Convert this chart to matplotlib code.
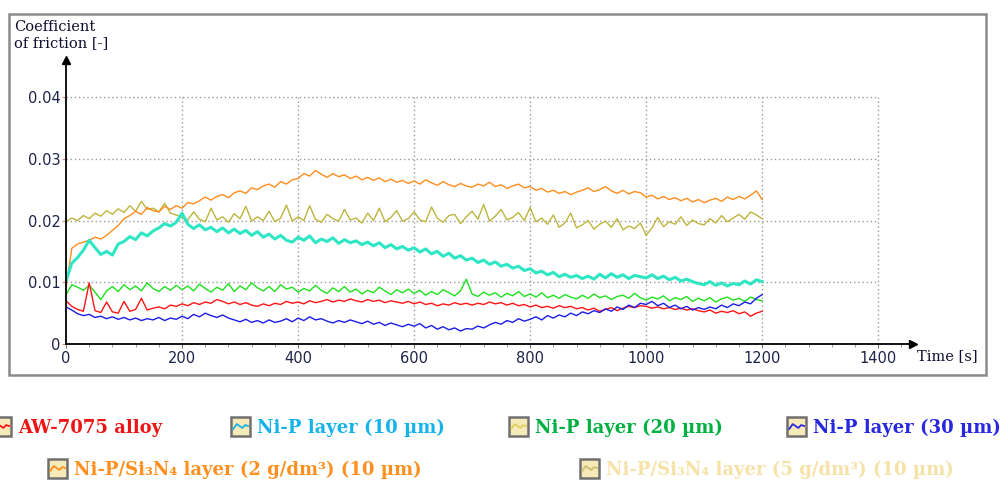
"""
Coefficient of friction vs. time for AW-7075 alloy and Ni-P based layers.
"""

import matplotlib
matplotlib.use("Agg")  # Non-interactive backend
import matplotlib.pyplot as plt
import numpy as np
from matplotlib.lines import Line2D
from matplotlib.patches import Rectangle

W, H = 1008, 483

# ---- Data (coefficient of friction in thousandths, sampled every 10 s) ----
time_s = np.arange(0, 1201, 10)

alloy_7075 = [
    7.0, 6.1, 5.6, 5.3, 9.9, 5.4, 5.1, 6.8, 5.2, 5.0,
    6.9, 5.3, 5.6, 7.4, 5.5, 5.8, 6.0, 5.7, 6.3, 6.1,
    6.5, 6.2, 6.7, 6.4, 6.8, 6.6, 7.2, 6.9, 6.5, 6.8,
    6.4, 6.7, 6.3, 6.1, 6.5, 6.2, 6.6, 6.4, 6.9, 6.6,
    6.8, 6.5, 7.0, 6.7, 6.9, 7.2, 6.8, 7.1, 6.9, 7.3,
    7.0, 6.8, 7.2, 6.9, 7.1, 6.7, 7.0, 6.8, 6.6, 6.9,
    6.5, 6.8, 6.4, 6.6, 6.2, 6.5, 6.3, 6.7, 6.4, 6.6,
    6.3, 6.6, 6.4, 6.8, 6.5, 6.7, 6.3, 6.6, 6.2, 6.4,
    6.0, 6.3, 5.9, 6.1, 5.8, 6.2, 5.9, 6.1, 5.7, 5.9,
    5.5, 5.8, 5.3, 5.6, 5.9, 5.4, 5.8, 6.1, 5.9, 6.2,
    6.1, 5.8, 6.0, 5.7, 5.9, 5.6, 5.8, 5.5, 5.7, 5.4,
    5.2, 5.5, 5.0, 5.3, 5.1, 5.4, 4.9, 5.2, 4.5, 5.0,
    5.3,
]

nip_10 = [
    10.2, 13.1, 14.0, 15.2, 16.8, 15.6, 14.5, 15.0, 14.4, 16.2,
    16.6, 17.4, 16.9, 18.0, 17.5, 18.3, 18.8, 19.5, 19.1, 19.7,
    21.2, 19.4, 18.7, 19.3, 18.5, 18.9, 18.2, 18.8, 18.0, 18.6,
    17.9, 18.4, 17.6, 18.2, 17.3, 17.8, 17.0, 17.6, 16.8, 16.5,
    17.3, 16.8, 17.5, 16.4, 17.0, 16.6, 17.2, 16.3, 16.9, 16.4,
    16.7, 16.1, 16.5, 15.9, 16.4, 15.6, 16.1, 15.4, 15.8, 15.2,
    15.6, 14.9, 15.4, 14.6, 15.0, 14.2, 14.7, 13.9, 14.3, 13.6,
    13.9, 13.2, 13.6, 12.9, 13.3, 12.6, 12.9, 12.3, 12.6, 11.9,
    12.2, 11.5, 11.8, 11.2, 11.6, 10.9, 11.3, 10.8, 11.1, 10.6,
    11.0, 10.5, 11.3, 10.7, 11.4, 10.8, 11.2, 10.6, 11.1, 10.9,
    10.7, 11.2, 10.6, 11.0, 10.4, 10.8, 10.2, 10.5, 10.1, 9.8,
    9.6, 10.1, 9.5, 9.9, 9.4, 9.8, 9.6, 10.2, 9.7, 10.4,
    10.1,
]

nip_20 = [
    8.0, 9.6, 9.2, 8.7, 9.5, 8.4, 7.2, 8.6, 9.3, 8.5,
    9.6, 8.8, 9.4, 8.6, 9.9, 9.0, 8.5, 9.3, 8.7, 9.5,
    8.8, 9.4, 8.6, 9.7, 9.0, 8.4, 9.2, 8.7, 9.8, 8.5,
    9.4, 8.8, 9.9, 9.1, 8.6, 9.3, 8.5, 9.6, 8.9, 9.2,
    8.4, 9.0, 8.6, 9.5, 8.7, 8.2, 9.1, 8.5, 9.3, 8.4,
    8.9, 8.1, 8.7, 8.3, 9.2, 8.6, 8.0, 8.8, 8.3, 8.9,
    8.2, 8.7, 7.9, 8.5, 8.0, 8.8, 8.3, 7.8, 8.6, 10.5,
    8.1, 7.7, 8.4, 7.9, 8.3, 7.6, 8.2, 7.8, 8.5, 7.7,
    8.1, 7.6, 8.3, 7.5, 7.9, 7.4, 8.0, 7.6, 7.3, 7.9,
    7.4, 8.1, 7.5, 7.8, 7.2, 7.7, 7.9, 7.4, 8.2, 7.5,
    7.1, 7.6, 7.3, 7.8, 7.0, 7.5, 7.2, 7.7, 6.9, 7.4,
    7.0, 7.5, 6.8, 7.3, 7.6, 7.1, 7.4, 6.9, 7.6, 7.2,
    7.0,
]

nip_30 = [
    6.0, 5.5, 4.9, 4.6, 4.8, 4.3, 4.5, 4.1, 4.4, 4.0,
    4.3, 3.9, 4.2, 3.8, 4.1, 3.9, 4.3, 3.8, 4.2, 4.0,
    4.5, 4.1, 4.8, 4.4, 5.0, 4.6, 4.3, 4.7, 4.2, 3.9,
    3.6, 4.0, 3.5, 3.8, 3.4, 3.9, 3.5, 3.7, 4.1, 3.6,
    4.2, 3.8, 4.4, 3.9, 4.1, 3.7, 3.4, 3.8, 3.5, 3.9,
    3.6, 3.3, 3.7, 3.2, 3.5, 3.0, 3.4, 3.1, 2.8, 3.2,
    2.9, 3.3, 2.6, 3.0, 2.4, 2.8, 2.3, 2.6, 2.1, 2.5,
    2.4, 2.9, 2.6, 3.1, 3.5, 3.2, 3.8, 3.5, 4.1, 3.7,
    4.0, 4.4, 3.9, 4.6, 4.2, 4.7, 4.4, 5.0, 4.6, 5.2,
    4.9, 5.4, 5.1, 5.7, 5.3, 6.0, 5.6, 6.3, 5.9, 6.6,
    6.4, 6.9, 6.2, 6.6, 5.9, 6.3, 5.7, 6.1, 5.5, 5.9,
    5.6, 6.0, 5.7, 6.3, 5.9, 6.5, 6.2, 6.8, 6.5, 7.4,
    8.0,
]

si3n4_2 = [
    9.0, 15.5, 16.2, 16.5, 16.8, 17.3, 17.0, 17.6, 18.4, 19.2,
    20.3, 20.8, 21.5, 21.0, 22.1, 21.6, 21.4, 22.3, 21.8, 22.4,
    22.0, 22.9, 22.7, 23.2, 23.8, 23.3, 23.9, 24.2, 23.7, 24.5,
    24.8, 24.4, 25.3, 25.0, 25.6, 25.9, 25.4, 26.3, 25.9, 26.6,
    26.8, 27.6, 27.2, 28.1, 27.5, 27.0, 27.6, 27.1, 27.4, 26.8,
    27.2, 26.6, 27.0, 26.5, 26.9, 26.3, 26.7, 26.2, 26.5, 26.0,
    26.4, 25.9, 26.6, 26.1, 25.7, 26.3, 25.8, 25.5, 26.0, 25.6,
    25.4, 25.9, 25.6, 26.2, 25.5, 25.8, 25.2, 25.6, 25.9, 25.3,
    25.5, 24.9, 25.2, 24.6, 24.9, 24.4, 24.7, 24.2, 24.6, 24.9,
    25.3, 24.7, 25.0, 25.5, 24.8, 24.4, 24.9, 24.3, 24.7, 24.5,
    23.8, 24.1, 23.5, 23.9, 23.4, 23.7, 23.2, 23.6, 23.0, 23.4,
    22.9, 23.3, 23.6, 23.1, 23.8, 23.4, 23.9, 23.5, 24.1, 24.8,
    23.4,
]

si3n4_5 = [
    19.8, 20.4, 20.0, 20.8, 20.3, 21.2, 20.7, 21.6, 21.0, 21.9,
    21.3, 22.4, 21.5, 23.1, 21.8, 22.0, 21.4, 22.8, 21.2, 20.9,
    20.5, 20.1, 21.4, 20.2, 19.8, 22.0, 20.1, 20.6, 19.7, 21.1,
    20.3, 22.3, 19.9, 20.6, 20.0, 21.5, 19.8, 20.4, 22.5, 19.9,
    20.6, 20.0, 22.4, 20.2, 19.7, 21.0, 20.3, 19.9, 21.8, 20.1,
    20.4, 19.6, 21.2, 20.0, 22.0, 19.8, 20.5, 21.6, 19.9, 20.3,
    21.4, 20.1, 19.8, 22.2, 20.4, 19.7, 20.8, 21.0, 19.5, 20.6,
    21.5, 20.2, 22.6, 19.9, 20.7, 21.8, 20.1, 20.5, 21.3, 20.0,
    22.1, 19.8, 20.4, 19.4, 20.9, 18.9, 19.6, 21.2, 18.8, 19.3,
    20.0, 18.6, 19.4, 19.9, 18.9, 20.3, 18.5, 19.1, 18.7, 19.6,
    17.6, 18.8, 20.5, 19.0, 19.8, 19.4, 20.6, 19.2, 20.1, 19.5,
    19.3, 20.3, 19.6, 20.8, 19.8, 20.4, 21.0, 20.2, 21.4, 20.9,
    20.3,
]

x_ticks = [0, 200, 400, 600, 800, 1000, 1200, 1400]
y_ticks = [0.0, 0.01, 0.02, 0.03, 0.04]
y_tick_labels = ["0", "0.01", "0.02", "0.03", "0.04"]

legend_labels = [
    "AW-7075 alloy",
    "Ni-P layer (10 µm)",
    "Ni-P layer (20 µm)",
    "Ni-P layer (30 µm)",
    "Ni-P/Si₃N₄ layer (2 g/dm³) (10 µm)",
    "Ni-P/Si₃N₄ layer (5 g/dm³) (10 µm)",
]


def fx(px):
    return px / W


def fy(py):
    return 1 - py / H


# ---- Figure ----
fig = plt.figure(figsize=(W / 100, H / 100), dpi=100)
fig.patch.set_facecolor("white")

# outer grey frame
fig.patches.append(Rectangle((fx(9), fy(375)), fx(986) - fx(9), fy(14) - fy(375),
                             transform=fig.transFigure, fill=False,
                             edgecolor="#8a8a8a", linewidth=1.8))

ax = fig.add_axes([fx(66), fy(344), fx(913) - fx(66), fy(60) - fy(344)])
ax.set_xlim(0, 1460)
ax.set_ylim(0, 0.046)
ax.patch.set_alpha(0)

# dotted grid, limited to the labelled range
ax.vlines(x_ticks[1:], 0, y_ticks[-1], colors="#9a9a9a", linestyles=(0, (1, 2)), linewidth=1.0)
ax.hlines(y_ticks[1:], 0, x_ticks[-1], colors="#9a9a9a", linestyles=(0, (1, 2)), linewidth=1.0)

series = [
    (si3n4_5, "#bdb53c", 1.0),
    (si3n4_2, "#ff8c1e", 1.0),
    (nip_10, "#2ee6c4", 2.2),
    (nip_20, "#1ee01e", 1.0),
    (alloy_7075, "#ff1414", 1.0),
    (nip_30, "#1c1ce8", 1.0),
]
for vals, color, lw in series:
    ax.plot(time_s, np.array(vals) / 1000.0, color=color, linewidth=lw)

# axes with arrow heads
for side in ("top", "right"):
    ax.spines[side].set_visible(False)
for side in ("left", "bottom"):
    ax.spines[side].set_color("black")
    ax.spines[side].set_linewidth(1.3)
ax.plot([1], [0], marker=">", color="black", markersize=6, transform=ax.transAxes, clip_on=False)
ax.plot([0], [1], marker="^", color="black", markersize=6, transform=ax.transAxes, clip_on=False)

ax.set_xticks(x_ticks)
ax.set_xticks(np.arange(0, 1460, 40), minor=True)
ax.set_yticks(y_ticks)
ax.set_yticklabels(y_tick_labels)
ax.tick_params(axis="x", which="major", length=3, color="#777777", labelsize=10.5,
               labelcolor="#1e2448", pad=2)
ax.tick_params(axis="x", which="minor", length=2, color="#888888")
ax.tick_params(axis="y", which="major", length=3, color="#e09090", labelsize=10.5,
               labelcolor="#1e2448", pad=1)

fig.text(fx(14), fy(20), "Coefficient\nof friction [-]", family="DejaVu Serif",
         fontsize=10.5, color="#101030", ha="left", va="top", linespacing=1.2)
fig.text(fx(917), fy(356), "Time [s]", family="DejaVu Serif", fontsize=10.5,
         color="#101030", ha="left", va="center")

# ---- Legend below the plot ----
legend_text_colors = ["#ee1414", "#14b4ea", "#00b040", "#2828e0", "#ff9020", "#f6e2a6"]
legend_line_colors = ["#ff1414", "#14b4ea", "#e0d060", "#2828e0", "#ff9020", "#c8c070"]
legend_text_pos = [(18, 428), (257, 428), (535, 428), (813, 428), (74, 470), (606, 470)]

wave_x = [0.12, 0.3, 0.45, 0.6, 0.75, 0.9]
wave_y = [0.35, 0.6, 0.5, 0.4, 0.55, 0.5]
icon = 19
for label, tcol, lcol, (tx, ty) in zip(legend_labels, legend_text_colors,
                                       legend_line_colors, legend_text_pos):
    ix, iy = tx - 26, ty - 2
    fig.patches.append(Rectangle((fx(ix), fy(iy + icon / 2)), fx(icon), icon / H,
                                 transform=fig.transFigure, facecolor="#f6eab8",
                                 edgecolor="#707070", linewidth=1.8))
    fig.lines.append(Line2D([fx(ix + icon * wx) for wx in wave_x],
                            [fy(iy + icon / 2 - icon * wy) for wy in wave_y],
                            transform=fig.transFigure, color=lcol, linewidth=1.3))
    fig.text(fx(tx), fy(ty), label, family="DejaVu Serif",
             fontweight="bold", fontsize=13, color=tcol, ha="left", va="center")

fig.savefig("out.png", dpi=100)
plt.close(fig)
